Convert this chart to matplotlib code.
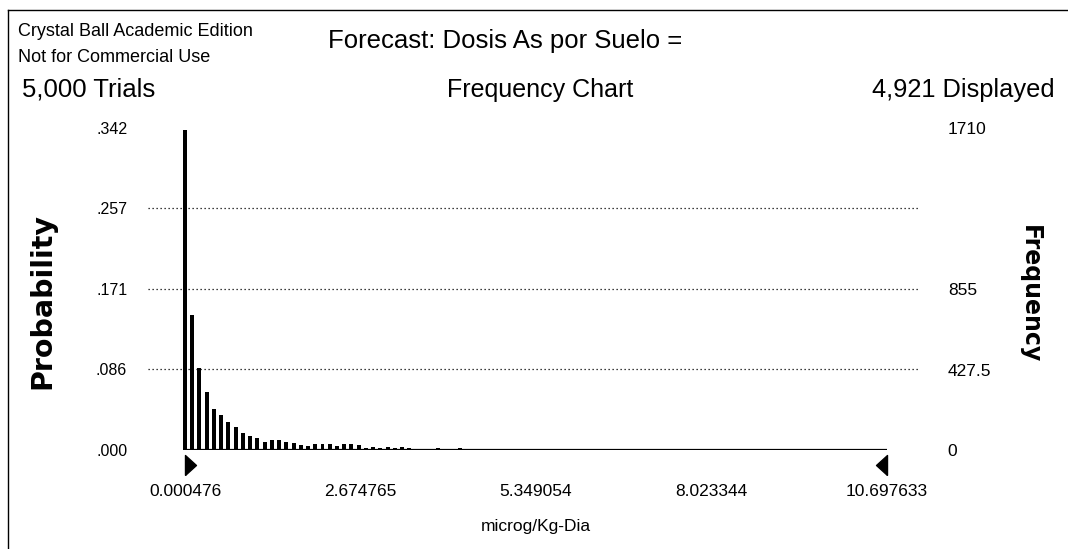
import matplotlib
matplotlib.use("Agg")
import matplotlib.pyplot as plt
import numpy as np

# ---- data -------------------------------------------------------------
range_min = 0.000476
range_max = 10.697633
n_trials = 5000
n_displayed = 4921
freq_axis_max = 1710

counts = [1702, 717, 434, 310, 216, 186, 150, 124, 89, 76,
          62, 42, 53, 53, 41, 39, 27, 21, 30, 30,
          30, 21, 30, 30, 27, 8, 15, 8, 15, 10,
          15, 12, 6, 5, 5, 12, 4, 5, 12, 4,
          5, 4, 6, 3, 5, 4, 2, 5, 4, 3,
          6, 4, 3, 5, 2, 4, 5, 3, 4, 2,
          5, 3, 4, 0, 3, 5, 4, 3, 2, 4,
          5, 3, 4, 2, 3, 4, 3, 5, 2, 4,
          3, 4, 2, 5, 3, 4, 3, 2, 4, 3,
          4, 2, 3, 4, 2, 3, 4]

x_ticks = [0.000476, 2.674765, 5.349054, 8.023344, 10.697633]
x_tick_labels = ["0.000476", "2.674765", "5.349054", "8.023344", "10.697633"]
prob_ticks = [0.000, 0.086, 0.171, 0.257, 0.342]
prob_tick_labels = [".000", ".086", ".171", ".257", ".342"]
freq_ticks = [0, 427.5, 855, 1710]
freq_tick_labels = ["0", "427.5", "855", "1710"]

# ---- figure -----------------------------------------------------------
W, H = 1068, 549
fig = plt.figure(figsize=(W / 100, H / 100), dpi=100)
fig.patch.set_facecolor("white")

plt.rcParams["font.family"] = ["Liberation Sans", "DejaVu Sans"]


def px(x, y):
    return x / W, 1 - y / H


# plot area in pixel coordinates
L, R, T, B = 148, 920, 128, 450
ax = fig.add_axes([L / W, 1 - B / H, (R - L) / W, (B - T) / H])

# x limits so the value range sits inside the dotted grid
px_per_unit = (887 - 185) / (range_max - range_min)
ax.set_xlim(range_min - (185 - L) / px_per_unit, range_max + (R - 887) / px_per_unit)
ymax = freq_axis_max / n_trials
ax.set_ylim(0, ymax)

n_bins = len(counts)
bin_w = (range_max - range_min) / n_bins
centers = range_min + bin_w * np.arange(n_bins)
probs = np.array(counts) / n_trials
ax.bar(centers, probs, width=bin_w * 0.55, color="black", align="center", zorder=3)

# baseline under the bars
ax.plot([range_min, range_max], [0, 0], color="black", lw=1.6, zorder=3,
        solid_capstyle="butt")

# dotted grid lines
for t in prob_ticks[1:-1]:
    ax.axhline(t, color="black", lw=0.9, ls=(0, (1, 2.2)), zorder=1)

for s in ax.spines.values():
    s.set_visible(False)

ax.set_xticks([])
ax.set_yticks(prob_ticks)
ax.set_yticklabels(prob_tick_labels)
ax.tick_params(axis="y", length=0, pad=15, labelsize=11.5)

# range markers (triangles) below the axis
tri_y = -(465 - B) / (B - T) * ymax
right_tri = [(0, -1), (1.1, 0), (0, 1), (0, -1)]
left_tri = [(0, -1), (-1.1, 0), (0, 1), (0, -1)]
ax.plot([range_min], [tri_y], marker=right_tri, color="black", ms=15.8,
        clip_on=False, ls="none")
ax.plot([range_max], [tri_y], marker=left_tri, color="black", ms=15.8,
        clip_on=False, ls="none")

# x tick labels drawn under the markers
for xv, lab in zip(x_ticks, x_tick_labels):
    ax.text(xv, -0.0445, lab, ha="center", va="center", fontsize=12.5,
            clip_on=False)

# right frequency axis
ax2 = ax.twinx()
ax2.set_ylim(0, freq_axis_max)
ax2.set_yticks(freq_ticks)
ax2.set_yticklabels(freq_tick_labels)
ax2.tick_params(axis="y", length=0, pad=20, labelsize=12.5)
for s in ax2.spines.values():
    s.set_visible(False)

# ---- texts ------------------------------------------------------------
fig.text(*px(18, 32), "Crystal Ball Academic Edition", fontsize=13,
         ha="left", va="center")
fig.text(*px(18, 58), "Not for Commercial Use", fontsize=13,
         ha="left", va="center")
fig.text(*px(22, 90), f"{n_trials:,} Trials", fontsize=18.5,
         ha="left", va="center")
fig.text(*px(328, 41), "Forecast: Dosis As por Suelo =", fontsize=18.5,
         ha="left", va="center")
fig.text(*px(540, 90), "Frequency Chart", fontsize=18,
         ha="center", va="center")
fig.text(*px(1055, 90), f"{n_displayed:,} Displayed", fontsize=18.3,
         ha="right", va="center")
fig.text(*px(536, 527), "microg/Kg-Dia", fontsize=12.5,
         ha="center", va="center")
fig.text(*px(42, 301), "Probability", fontsize=20.5, fontweight="bold",
         rotation=90, ha="center", va="center", family="DejaVu Sans")
fig.text(*px(1030, 294), "Frequency", fontsize=17, fontweight="bold",
         rotation=270, ha="center", va="center", family="DejaVu Sans")

# page frame (left and top edges)
fig.add_artist(plt.Line2D([8 / W, 8 / W], [1 - 10 / H, 0], color="black",
                          lw=1.0, transform=fig.transFigure))
fig.add_artist(plt.Line2D([8 / W, 1], [1 - 10 / H, 1 - 10 / H], color="black",
                          lw=1.0, transform=fig.transFigure))

fig.savefig("out.png", dpi=100, facecolor="white")
